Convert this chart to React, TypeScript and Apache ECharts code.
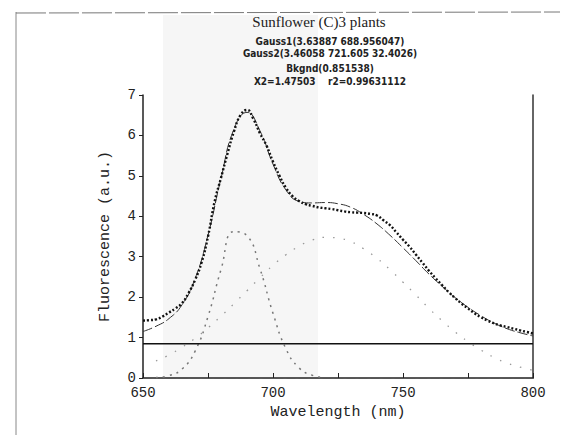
import React, { useEffect, useRef } from "react";
import * as echarts from "echarts";

// Wavelength grids (nm)
const dataX = [650, 652.5, 655, 657.5, 660, 662.5, 665, 667.5, 670, 672.5, 675, 677.5, 680, 682.5, 685, 687.5, 690, 692.5, 695, 697.5, 700, 702.5, 705, 707.5, 710, 712.5, 715, 717.5, 720, 722.5, 725, 727.5, 730, 732.5, 735, 737.5, 740, 742.5, 745, 747.5, 750, 752.5, 755, 757.5, 760, 762.5, 765, 767.5, 770, 772.5, 775, 777.5, 780, 782.5, 785, 787.5, 790, 792.5, 795, 797.5, 800];
// Measured fluorescence
const measured = [1.42, 1.43, 1.45, 1.52, 1.62, 1.72, 1.85, 2.1, 2.42, 2.85, 3.5, 4.35, 4.95, 5.55, 6.1, 6.5, 6.63, 6.4, 6.05, 5.75, 5.35, 5.0, 4.7, 4.5, 4.38, 4.3, 4.26, 4.22, 4.2, 4.18, 4.15, 4.12, 4.1, 4.09, 4.08, 4.06, 4.02, 3.9, 3.78, 3.6, 3.42, 3.25, 3.05, 2.85, 2.65, 2.47, 2.3, 2.13, 1.98, 1.84, 1.72, 1.6, 1.5, 1.42, 1.35, 1.3, 1.26, 1.22, 1.18, 1.14, 1.1];

const fitX = [650, 655, 660, 665, 670, 675, 680, 685, 690, 695, 700, 705, 710, 715, 720, 725, 730, 735, 740, 745, 750, 755, 760, 765, 770, 775, 780, 785, 790, 795, 800];
// Fitted sum (Gauss1 + Gauss2 + background)
const fitted = [1.15, 1.28, 1.47, 1.81, 2.45, 3.53, 4.94, 6.16, 6.57, 6.11, 5.29, 4.65, 4.37, 4.33, 4.34, 4.31, 4.22, 4.04, 3.81, 3.53, 3.22, 2.9, 2.57, 2.27, 1.99, 1.75, 1.54, 1.36, 1.22, 1.12, 1.04];

const g1X = [655, 660, 665, 670, 675, 680, 685, 690, 695, 700, 705, 710, 715, 720];
const gauss1 = [0.01, 0.06, 0.22, 0.66, 1.52, 2.68, 3.62, 3.52, 2.7, 1.6, 0.72, 0.25, 0.07, 0.01];

const g2X = [655, 660, 665, 670, 675, 680, 685, 690, 695, 700, 705, 710, 715, 720, 725, 730, 735, 740, 745, 750, 755, 760, 765, 770, 775, 780, 785, 790, 795, 800];
const gauss2 = [0.42, 0.57, 0.76, 0.98, 1.24, 1.53, 1.84, 2.16, 2.48, 2.79, 3.05, 3.26, 3.41, 3.48, 3.46, 3.37, 3.19, 2.96, 2.68, 2.37, 2.05, 1.72, 1.42, 1.14, 0.9, 0.69, 0.51, 0.37, 0.27, 0.19];

const bkgdX = [650, 800];
const bkgd = [0.85, 0.85];

const xTicks = [650, 700, 750, 800];
const yTicks = [0, 1, 2, 3, 4, 5, 6, 7];

const titleLines = [
  "Sunflower (C)3 plants",
  "Gauss1(3.63887 688.956047)",
  "Gauss2(3.46058 721.605 32.4026)",
  "Bkgnd(0.851538)",
  "X2=1.47503    r2=0.99631112",
];

const pairs = (xs: number[], ys: number[]) => xs.map((x, i) => [x, ys[i]]);

const SERIF = "'Liberation Serif', 'DejaVu Serif', serif";
const MONO = "'Liberation Mono', 'DejaVu Sans Mono', monospace";

export default function App() {
  const ref = useRef<HTMLDivElement>(null);
  useEffect(() => {
    if (!ref.current) return;
    const chart = echarts.init(ref.current, undefined, { renderer: "svg" });
    const titleY = [22, 41, 53, 68, 81];
    chart.setOption({
      animation: false,
      backgroundColor: "#fff",
      grid: { left: 143, right: 43, top: 95, bottom: 57 },
      xAxis: [
        {
          type: "value",
          min: xTicks[0],
          max: xTicks[xTicks.length - 1],
          interval: 50,
          name: "Wavelength (nm)",
          nameLocation: "middle",
          nameGap: 21,
          nameTextStyle: { fontFamily: MONO, fontSize: 15, color: "#222" },
          axisLine: { lineStyle: { color: "#222", width: 1.5 } },
          axisTick: { inside: true, length: 5, lineStyle: { color: "#222" } },
          minorTick: { show: true, splitNumber: 2, length: 5, lineStyle: { color: "#222" } },
          axisLabel: { fontFamily: MONO, fontSize: 14, color: "#222", margin: 8 },
          splitLine: { show: false },
        },
        {
          type: "value",
          position: "top",
          min: 650,
          max: 800,
          axisLine: { lineStyle: { color: "#555", width: 1, type: [8, 4] } },
          axisTick: { show: false },
          axisLabel: { show: false },
          splitLine: { show: false },
        },
      ],
      yAxis: [
        {
          type: "value",
          min: yTicks[0],
          max: yTicks[yTicks.length - 1],
          interval: 1,
          name: "Fluorescence (a.u.)",
          nameLocation: "middle",
          nameGap: 30,
          nameTextStyle: { fontFamily: MONO, fontSize: 15, color: "#222" },
          axisLine: { show: true, lineStyle: { color: "#222", width: 1.5 } },
          axisTick: { show: true, length: 4, lineStyle: { color: "#222" } },
          axisLabel: { fontFamily: MONO, fontSize: 14, color: "#222", margin: 7 },
          splitLine: { show: false },
        },
        {
          type: "value",
          position: "right",
          min: 0,
          max: 7,
          interval: 1,
          axisLine: { show: true, lineStyle: { color: "#333", width: 1.5 } },
          axisTick: { show: false },
          axisLabel: { show: false },
          splitLine: { show: false },
        },
      ],
      graphic: [
        { type: "rect", z: -10, shape: { x: 163, y: 15, width: 155, height: 363 }, style: { fill: "#f6f6f6" } },
        { type: "line", shape: { x1: 16, y1: 12, x2: 16, y2: 435 }, style: { stroke: "#888", lineWidth: 1 } },
        { type: "line", shape: { x1: 16, y1: 13, x2: 560, y2: 12 }, style: { stroke: "#777", lineWidth: 1, lineDash: [30, 3] } },
        ...titleLines.map((t, i) => ({
          type: "text",
          x: i === 0 ? 319 : 330,
          y: titleY[i],
          style: {
            text: t,
            fill: "#222",
            font: i === 0
              ? `15px ${SERIF}`
              : `bold 10px 'DejaVu Sans Condensed', 'Liberation Sans Narrow', 'DejaVu Sans', sans-serif`,
            textAlign: "center",
            textVerticalAlign: "middle",
          },
        })),
      ],
      series: [
        {
          name: "Bkgnd",
          type: "line",
          data: pairs(bkgdX, bkgd),
          symbol: "none",
          lineStyle: { color: "#111", width: 1.5 },
          z: 3,
        },
        {
          name: "Gauss2",
          type: "line",
          data: pairs(g2X, gauss2),
          smooth: true,
          symbol: "none",
          lineStyle: { color: "#999", width: 1.3, type: [1.5, 9] },
          z: 2,
        },
        {
          name: "Gauss1",
          type: "line",
          data: pairs(g1X, gauss1),
          smooth: true,
          symbol: "none",
          lineStyle: { color: "#777", width: 1.5, type: [2, 5] },
          z: 2,
        },
        {
          name: "Fit",
          type: "line",
          data: pairs(fitX, fitted),
          smooth: true,
          symbol: "none",
          lineStyle: { color: "#333", width: 1, type: [10, 3] },
          z: 4,
        },
        {
          name: "Measured",
          type: "line",
          data: pairs(dataX, measured),
          smooth: true,
          symbol: "none",
          lineStyle: { color: "#111", width: 2.4, type: [2, 2] },
          z: 5,
        },
      ],
    });
    return () => chart.dispose();
  }, []);
  return (
    <div
      ref={ref}
      style={{ position: "fixed", left: 0, top: 0, width: 576, height: 435 }}
    />
  );
}
